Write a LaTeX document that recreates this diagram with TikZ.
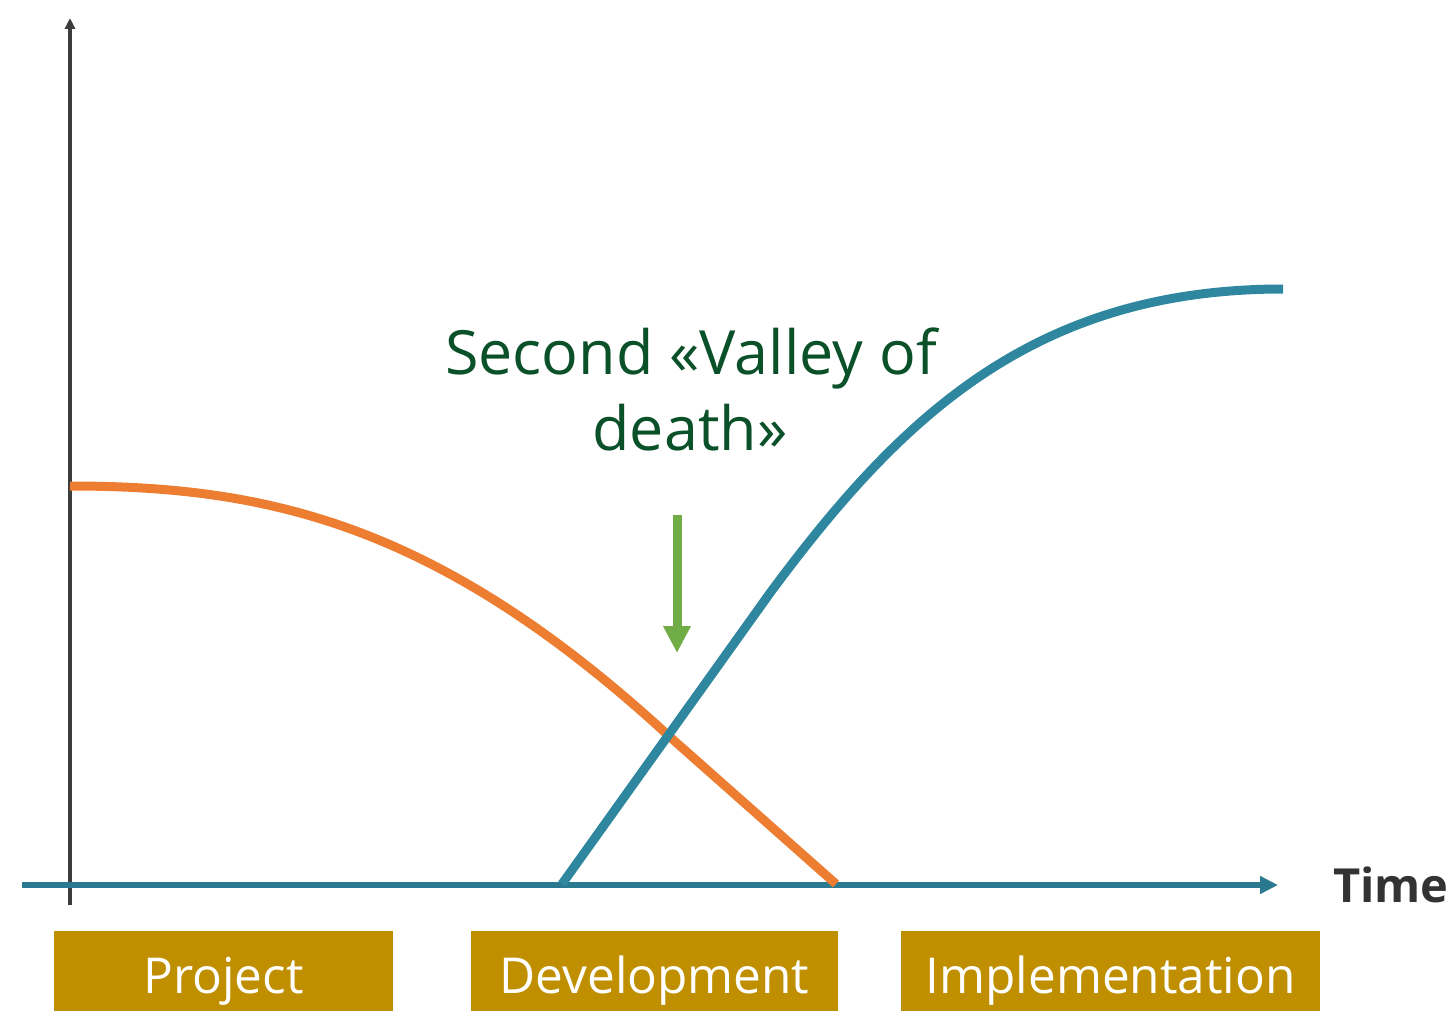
\documentclass[tikz,border=0pt]{standalone}
\usepackage{fontspec}
\setmainfont{Open Sans}
\usetikzlibrary{arrows.meta}
\definecolor{axisgray}{HTML}{3C3C3C}
\definecolor{axisteal}{HTML}{2B7990}
\definecolor{curveteal}{HTML}{2F879F}
\definecolor{curveorange}{HTML}{ED7D31}
\definecolor{arrowgreen}{HTML}{70AD47}
\definecolor{titlegreen}{HTML}{0A5028}
\definecolor{phasegold}{HTML}{BF8F00}
\definecolor{timegray}{HTML}{333333}
\tikzset{
  phase/.style={fill=phasegold, text=white, inner sep=0pt, minimum height=80pt,
    text height=44pt, text depth=0pt, font=\fontsize{49.5}{56}\selectfont},
  curve/.style={line width=9pt},
  titletext/.style={text=titlegreen, font=\fontsize{61}{76}\selectfont, inner sep=0pt, anchor=base},
}
\begin{document}
\begin{tikzpicture}[x=1pt,y=-1pt]
\useasboundingbox (0,0) rectangle (1453,1011);
% coordinates
\coordinate (ybot) at (70,905);
\coordinate (ytop) at (70,18);
\coordinate (xl) at (22,885);
\coordinate (xr) at (1278,885);
\coordinate (o0) at (70,486);
\coordinate (o1) at (670,737);
\coordinate (o2) at (836,884);
\coordinate (t0) at (562,884);
\coordinate (t1) at (770,593);
\coordinate (t2) at (1283,289);
\coordinate (g0) at (677,515);
\coordinate (g1) at (677,653);
% axes
\draw[axisgray, line width=3.2pt, -{Triangle[width=10pt,length=11pt]}] (ybot) -- (ytop);
\draw[axisteal, line width=5.5pt, -{Triangle[width=17pt,length=18pt]}] (xl) -- (xr);
% curves
\draw[curve, curveorange] (o0) .. controls (270,486) and (440,525) .. (o1) -- (o2);
\draw[curve, curveteal] (t0) -- (t1) .. controls (900,417.5) and (1033,289) .. (t2);
% green arrow
\draw[arrowgreen, line width=9pt, -{Triangle[width=26pt,length=27pt]}] (g0) -- (g1);
% title
\node[titletext] (t1l) at (691,374) {Second «Valley of};
\node[titletext] (t2l) at (690,450) {death»};
% time label
\node[text=timegray, font=\fontsize{47}{54}\selectfont\bfseries, inner sep=0pt, anchor=base] (time) at (1391,902) {Time};
% phases
\node[phase, minimum width=339pt] (proj) at (223.5,971) {Project};
\node[phase, minimum width=367pt] (dev) at (654.5,971) {Development};
\node[phase, minimum width=419pt] (impl) at (1110.5,971) {Implementation};
\end{tikzpicture}
\end{document}
